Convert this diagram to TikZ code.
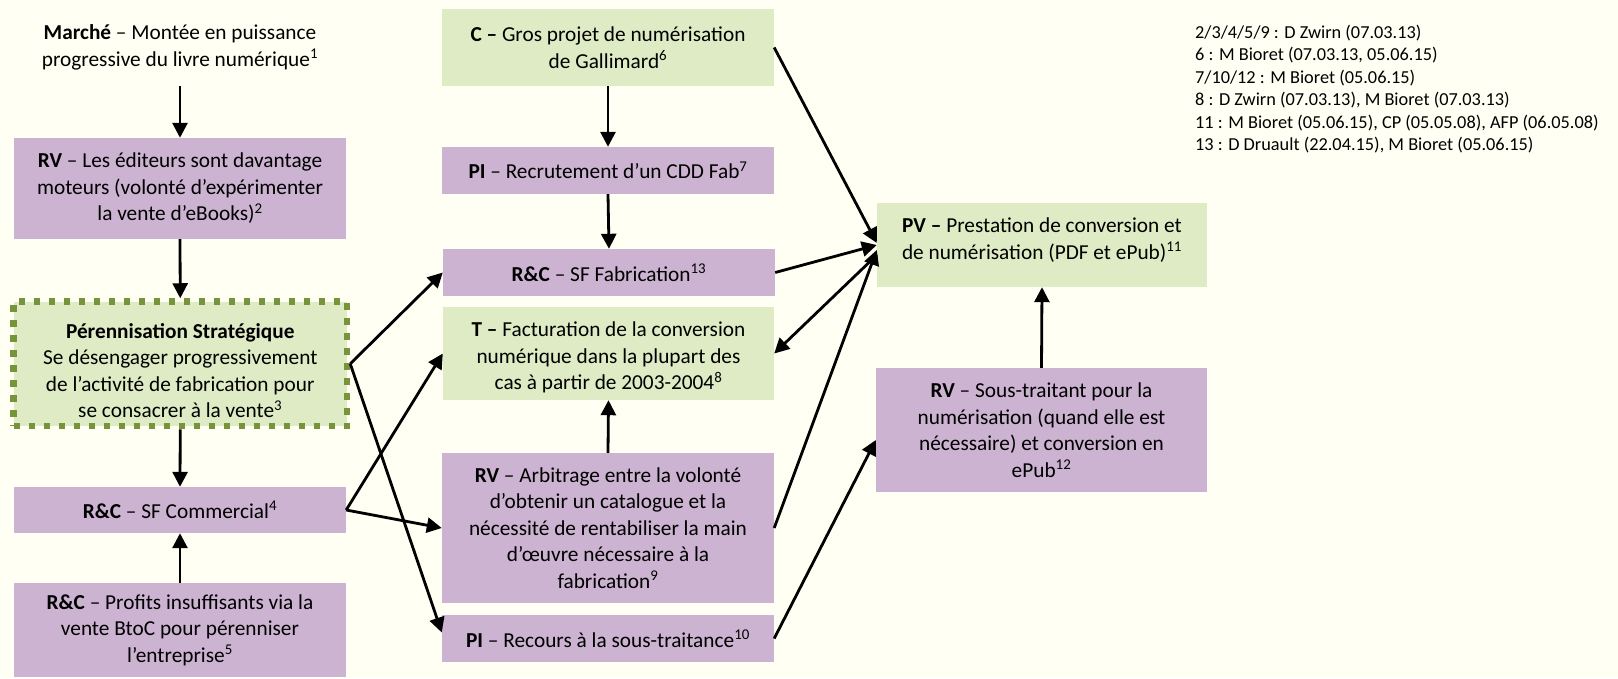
\documentclass[tikz,border=0pt]{standalone}
\usepackage{fontspec}
\setmainfont{Carlito}
\usetikzlibrary{arrows.meta}
\definecolor{bg}{HTML}{FFFFF3}
\definecolor{gfill}{HTML}{DFEBC4}
\definecolor{pfill}{HTML}{CCB3D1}
\definecolor{olive}{HTML}{77933C}
\tikzset{
 box/.style={inner sep=0pt, align=center, font=\fontsize{21.3}{26.5}\selectfont},
 gbox/.style={box, fill=gfill},
 pbox/.style={box, fill=pfill},
 arr/.style={line width=2.8pt, -{Triangle[length=15pt,width=15pt]}},
 notestyle/.style={anchor=north west, inner sep=0pt, align=left, font=\fontsize{18.3}{22.5}\selectfont},
}
\newcommand\sups[1]{\textsuperscript{#1}}
\begin{document}
\begin{tikzpicture}[x=1pt,y=-1pt]
\fill[bg] (0,0) rectangle (1618,678);
\useasboundingbox (0,0) rectangle (1618,678);

% left column
\node[box, minimum width=332pt, minimum height=77pt] (mar) at (180,47.5) {\textbf{Marché} – Montée en puissance\\progressive du livre numérique\sups{1}};
\node[pbox, minimum width=332pt, minimum height=101pt] (rv1) at (180,188.5) {\textbf{RV} – Les éditeurs sont davantage\\moteurs (volonté d’expérimenter\\la vente d’eBooks)\sups{2}};
\node[gbox, draw=olive, line width=6.5pt, dash pattern=on 6.5pt off 8.5pt, minimum width=333.5pt, minimum height=124.5pt] (per) at (180.25,363.75) {\rule{0pt}{29pt}\textbf{Pérennisation Stratégique}\\Se désengager progressivement\\de l’activité de fabrication pour\\se consacrer à la vente\sups{3}};
\node[pbox, minimum width=332pt, minimum height=46pt] (rcom) at (180,510) {\textbf{R\&C} – SF Commercial\sups{4}};
\node[pbox, minimum width=332pt, minimum height=94pt] (rprof) at (180,630) {\textbf{R\&C} – Profits insuffisants via la\\vente BtoC pour pérenniser\\l’entreprise\sups{5}};

% middle column
\node[gbox, minimum width=332pt, minimum height=77pt] (c) at (608,47.5) {\textbf{C –} Gros projet de numérisation\\de Gallimard\sups{6}};
\node[pbox, minimum width=332pt, minimum height=47pt] (pir) at (608,170.5) {\textbf{PI} – Recrutement d’un CDD Fab\sups{7}};
\node[pbox, minimum width=332pt, minimum height=47pt] (fab) at (609,272.5) {\textbf{R\&C} – SF Fabrication\sups{13}};
\node[gbox, minimum width=331pt, minimum height=93pt] (t) at (608.5,353.5) {\rule{0pt}{23pt}\textbf{T –} Facturation de la conversion\\numérique dans la plupart des\\cas à partir de 2003-2004\sups{8}};
\node[pbox, minimum width=332pt, minimum height=150pt] (arb) at (608,528) {\textbf{RV} – Arbitrage entre la volonté\\d’obtenir un catalogue et la\\nécessité de rentabiliser la main\\d’œuvre nécessaire à la\\fabrication\sups{9}};
\node[pbox, minimum width=332pt, minimum height=47pt] (rec) at (608,638.5) {\textbf{PI} – Recours à la sous-traitance\sups{10}};

% right column
\node[gbox, minimum width=330pt, minimum height=84pt] (pv) at (1042,245) {\textbf{PV –} Prestation de conversion et\\de numérisation (PDF et ePub)\sups{11}\rule[-13pt]{0pt}{13pt}};
\node[pbox, minimum width=331pt, minimum height=124pt] (rvs) at (1041.5,430) {\textbf{RV} – Sous-traitant pour la\\numérisation (quand elle est\\nécessaire) et conversion en\\ePub\sups{12}};

% notes
\node[notestyle] (notes) at (1195,24.5) {2/3/4/5/9 : D Zwirn (07.03.13)\\6 : M Bioret (07.03.13, 05.06.15)\\7/10/12 : M Bioret (05.06.15)\\8 : D Zwirn (07.03.13), M Bioret (07.03.13)\\11 : M Bioret (05.06.15), CP (05.05.08), AFP (06.05.08)\\13 : D Druault (22.04.15), M Bioret (05.06.15)};

% connectors
\draw[arr] (mar.south) -- (rv1.north);
\draw[arr] (rv1.south) -- (per.north);
\draw[arr] (per.south) -- (rcom.north);
\draw[arr] (rprof.north) -- (rcom.south);
\draw[arr] (c.south) -- (pir.north);
\draw[arr] (pir.south) -- (fab.north);
\draw[arr] (arb.north) -- (t.south);
\draw[arr] (rvs.north) -- (pv.south);
\draw[arr] (per.east) -- (fab.west);
\draw[arr] (per.east) -- ([yshift=6pt]rec.west);
\draw[arr] (rcom.east) -- (t.west);
\draw[arr] (rcom.east) -- (arb.west);
\draw[arr] (c.east) -- ([yshift=2pt]pv.west);
\draw[arr] (fab.east) -- (pv.west);
\draw[arr] ([yshift=-10pt]pv.west) -- (t.east);
\draw[arr] (arb.east) -- ([yshift=-5pt]pv.west);
\draw[arr] (rec.east) -- ([yshift=-10pt]rvs.west);
\end{tikzpicture}
\end{document}
